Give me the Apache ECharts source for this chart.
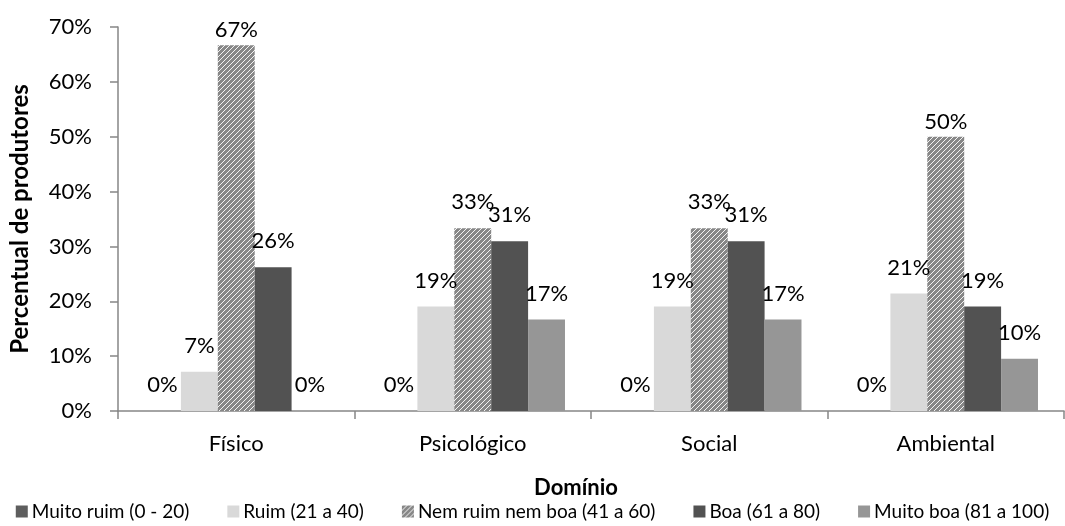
<!DOCTYPE html>
<html>
<head>
<meta charset="utf-8">
<script src="https://cdn.jsdelivr.net/npm/echarts@6/dist/echarts.min.js"></script>
<style>
  html, body { margin: 0; padding: 0; background: #ffffff; }
  #chart { width: 1065px; height: 526px; }
</style>
</head>
<body>
<div id="chart"></div>
<script>
// Domains on the category axis
const domains = ['Físico', 'Psicológico', 'Social', 'Ambiental'];

// Share of producers (%) in each quality-of-life class, per domain
const muitoRuim = [0, 0, 0, 0];
const ruim = [7.14, 19.05, 19.05, 21.43];
const nemRuimNemBoa = [66.67, 33.33, 33.33, 50.0];
const boa = [26.19, 30.95, 30.95, 19.05];
const muitoBoa = [0, 16.67, 16.67, 9.52];

const seriesNames = [
  'Muito ruim (0 - 20)',
  'Ruim (21 a 40)',
  'Nem ruim nem boa (41 a 60)',
  'Boa (61 a 80)',
  'Muito boa (81 a 100)'
];

const yTicks = [0, 10, 20, 30, 40, 50, 60, 70];

const FONT = 'Lato, "Open Sans", sans-serif';

// Diagonal white hatch on grey for the middle class
function hatchPattern() {
  const s = 5;
  const c = document.createElement('canvas');
  c.width = s; c.height = s;
  const g = c.getContext('2d');
  g.fillStyle = '#878787';
  g.fillRect(0, 0, s, s);
  g.strokeStyle = '#f4f4f4';
  g.lineWidth = 1;
  g.beginPath();
  g.moveTo(0, s); g.lineTo(s, 0);
  g.moveTo(-s / 2, s / 2); g.lineTo(s / 2, -s / 2);
  g.moveTo(s / 2, s * 1.5); g.lineTo(s * 1.5, s / 2);
  g.stroke();
  return { image: c, repeat: 'repeat' };
}

const colors = ['#5e5e5e', '#d9d9d9', hatchPattern(), '#525252', '#969696'];
const values = [muitoRuim, ruim, nemRuimNemBoa, boa, muitoBoa];

function buildSeries(i) {
  return {
    name: seriesNames[i],
    type: 'bar',
    barGap: '0%',
    barCategoryGap: '22%',
    itemStyle: { color: colors[i] },
    data: values[i].map(v => ({
      value: v,
      // the two tallest bars carry their labels close to the top
      label: { distance: v >= 45 ? 4 : 15 }
    })),
    label: {
      show: true,
      position: 'top',
      color: '#000000',
      fontFamily: FONT,
      fontSize: 22,
      formatter: p => Math.round(p.value) + '%'
    }
  };
}

const chart = echarts.init(document.getElementById('chart'), null, { renderer: 'canvas' });

chart.setOption({
  animation: false,
  backgroundColor: '#ffffff',
  grid: { left: 116, right: 1, top: 27, bottom: 115, containLabel: false },
  legend: {
    bottom: 0,
    left: 'center',
    itemWidth: 12,
    itemHeight: 12,
    itemGap: 38,
    icon: 'rect',
    textStyle: { fontFamily: FONT, fontSize: 19, color: '#000000', padding: [0, 0, 0, -1] },
    data: seriesNames
  },
  xAxis: {
    type: 'category',
    data: domains,
    name: 'Domínio',
    nameLocation: 'middle',
    nameGap: 66,
    nameTextStyle: { fontFamily: FONT, fontSize: 22, fontWeight: 'bold', color: '#000000', padding: [0, 30, 0, 0] },
    axisLine: { lineStyle: { color: '#868686', width: 1.5 } },
    axisTick: { show: true, length: 8, lineStyle: { color: '#868686', width: 1.5 } },
    axisLabel: { fontFamily: FONT, fontSize: 22, color: '#000000', margin: 22 }
  },
  yAxis: {
    type: 'value',
    min: yTicks[0],
    max: yTicks[yTicks.length - 1],
    interval: yTicks[1] - yTicks[0],
    name: 'Percentual de produtores',
    nameLocation: 'middle',
    nameGap: 86,
    nameTextStyle: { fontFamily: FONT, fontSize: 24, fontWeight: 'bold', color: '#000000' },
    axisLine: { show: true, lineStyle: { color: '#868686', width: 1.5 } },
    axisTick: { show: true, length: 8, lineStyle: { color: '#868686', width: 1.5 } },
    splitLine: { show: false },
    axisLabel: { fontFamily: FONT, fontSize: 22, color: '#000000', margin: 26, formatter: '{value}%' }
  },
  series: values.map((_, i) => buildSeries(i))
});
</script>
</body>
</html>
